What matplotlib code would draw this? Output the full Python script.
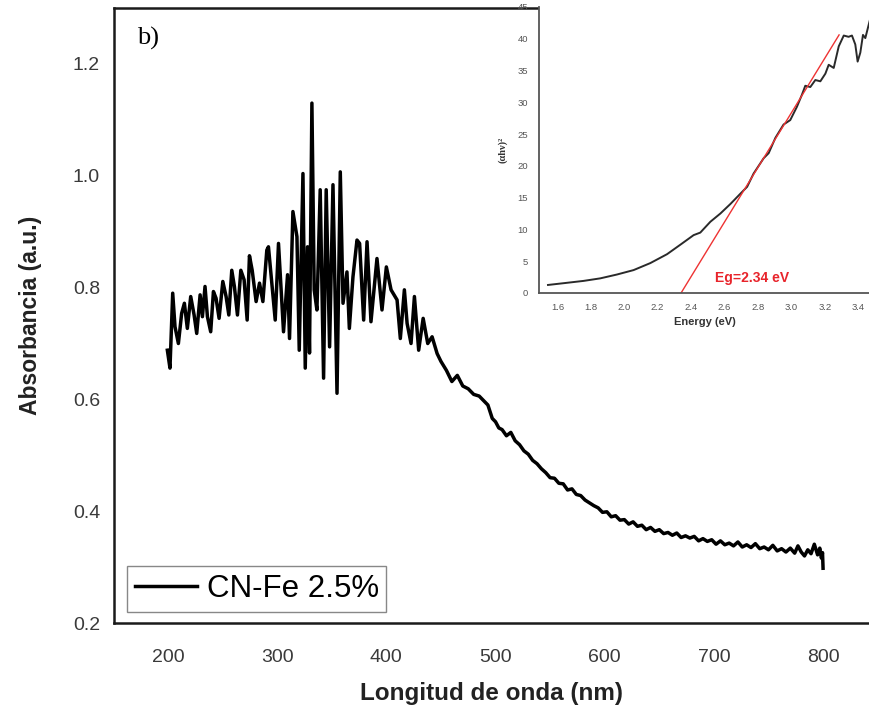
import matplotlib
matplotlib.use("Agg")
import matplotlib.pyplot as plt
from matplotlib.ticker import FormatStrFormatter

# ---------------- data ----------------
wavelength = [199.4, 201.8, 204.3, 206.4, 209.5, 212.5, 215.0, 217.7, 220.8, 223.9,
              226.3, 229.4, 231.5, 233.9, 236.1, 239.1, 241.6, 244.0, 246.8, 250.2,
              253.2, 255.7, 258.4, 260.8, 263.6, 266.7, 269.7, 272.5, 274.6, 277.1,
              280.7, 283.8, 286.9, 290.5, 292.0, 298.2, 301.2, 305.8, 309.5, 311.3,
              314.4, 318.1, 320.2, 323.6, 325.7, 327.8, 329.6, 331.8, 333.9, 336.4,
              339.4, 342.5, 344.9, 348.0, 351.1, 354.8, 357.8, 360.3, 363.9, 366.1,
              369.4, 373.1, 375.5, 379.2, 382.3, 385.9, 391.4, 396.0, 400.0, 404.3,
              409.8, 412.8, 416.5, 419.0, 422.6, 425.7, 429.6, 433.7, 437.9, 441.9,
              446.5, 450.0, 455, 460, 465, 470, 475, 480, 485, 490,
              493, 497, 500, 503, 506, 510, 514, 518, 522, 526,
              530, 534, 538, 542, 546, 550, 554, 558, 562, 566,
              570, 574, 578, 582, 586, 590, 594, 598, 602, 606,
              610, 614, 618, 622, 626, 630, 634, 638, 642, 646,
              650, 654, 658, 662, 666, 670, 674, 678, 682, 686,
              690, 694, 698, 702, 706, 710, 714, 718, 722, 726,
              730, 734, 738, 742, 746, 750, 754, 758, 762, 766,
              770, 774, 777, 780, 783, 786, 789, 792, 795, 797,
              798.5, 799.5, 800.0]
absorbance = [0.688, 0.656, 0.790, 0.730, 0.700, 0.754, 0.772, 0.727, 0.784, 0.751,
              0.718, 0.787, 0.748, 0.802, 0.748, 0.721, 0.793, 0.781, 0.745, 0.811,
              0.784, 0.751, 0.831, 0.802, 0.751, 0.831, 0.814, 0.742, 0.857, 0.831,
              0.775, 0.808, 0.775, 0.867, 0.873, 0.742, 0.879, 0.721, 0.823, 0.709,
              0.936, 0.891, 0.688, 1.004, 0.656, 0.873, 0.683, 1.130, 0.796, 0.760,
              0.975, 0.638, 0.975, 0.694, 0.984, 0.611, 1.007, 0.772, 0.828, 0.727,
              0.819, 0.885, 0.879, 0.742, 0.882, 0.739, 0.852, 0.760, 0.837, 0.796,
              0.778, 0.709, 0.796, 0.736, 0.700, 0.784, 0.688, 0.745, 0.700, 0.712,
              0.682, 0.668, 0.652, 0.632, 0.643, 0.624, 0.619, 0.609, 0.606, 0.596,
              0.590, 0.566, 0.560, 0.549, 0.546, 0.535, 0.541, 0.526, 0.519, 0.508,
              0.502, 0.491, 0.485, 0.476, 0.469, 0.460, 0.459, 0.450, 0.449, 0.438,
              0.440, 0.430, 0.428, 0.420, 0.415, 0.410, 0.406, 0.398, 0.399, 0.390,
              0.392, 0.384, 0.385, 0.377, 0.381, 0.373, 0.375, 0.367, 0.371, 0.364,
              0.367, 0.360, 0.362, 0.357, 0.361, 0.353, 0.356, 0.352, 0.355, 0.347,
              0.351, 0.346, 0.349, 0.341, 0.347, 0.340, 0.343, 0.338, 0.345, 0.336,
              0.340, 0.335, 0.342, 0.333, 0.336, 0.331, 0.339, 0.329, 0.333, 0.327,
              0.334, 0.325, 0.338, 0.327, 0.320, 0.331, 0.324, 0.341, 0.322, 0.334,
              0.316, 0.326, 0.298]

series_label = "CN-Fe 2.5%"
x_ticks = [200, 300, 400, 500, 600, 700, 800]
y_ticks = [0.2, 0.4, 0.6, 0.8, 1.0, 1.2]

# Tauc plot inset
energy = [1.544, 1.658, 1.757, 1.857, 1.956, 2.056, 2.156, 2.256, 2.336, 2.415,
          2.455, 2.515, 2.575, 2.635, 2.694, 2.735, 2.774, 2.834, 2.864, 2.904,
          2.953, 2.993, 3.033, 3.063, 3.083, 3.113, 3.143, 3.173, 3.203, 3.223,
          3.253, 3.283, 3.313, 3.342, 3.362, 3.382, 3.396, 3.412, 3.428, 3.442,
          3.468]
tauc = [1.26, 1.6, 1.9, 2.3, 2.9, 3.6, 4.7, 6.1, 7.6, 9.1,
        9.5, 11.2, 12.5, 14.0, 15.6, 16.7, 18.8, 21.2, 22.0, 24.4,
        26.5, 27.2, 29.3, 31.2, 32.6, 32.4, 33.5, 33.3, 34.5, 35.9,
        35.4, 38.8, 40.5, 40.3, 40.5, 39.1, 36.4, 37.8, 40.6, 40.1,
        42.8]
fit_energy = [2.34, 3.285]
fit_tauc = [0.0, 40.6]
eg_label = "Eg=2.34 eV"
inset_x_ticks = [1.6, 1.8, 2.0, 2.2, 2.4, 2.6, 2.8, 3.0, 3.2, 3.4]
inset_y_ticks = [0, 5, 10, 15, 20, 25, 30, 35, 40, 45]

# ---------------- figure ----------------
plt.rcParams['font.family'] = ['Liberation Sans', 'DejaVu Sans']
fig = plt.figure(figsize=(8.70, 7.08), dpi=100)

ax = fig.add_axes([0.131, 0.120, 0.869, 0.8686])
ax.plot(wavelength, absorbance, color='black', lw=2.5, label=series_label,
        solid_joinstyle='round')
ax.set_xlim(150.5, 843)
ax.set_ylim(0.2, 1.3)
ax.set_xticks(x_ticks)
ax.set_yticks(y_ticks)
ax.yaxis.set_major_formatter(FormatStrFormatter('%.1f'))
ax.tick_params(length=0, labelsize=14, colors='#3a3a3a')
ax.tick_params(axis='x', pad=19)
ax.tick_params(axis='y', pad=10)
for s in ['left', 'bottom', 'top']:
    ax.spines[s].set_linewidth(1.8)
    ax.spines[s].set_color('#1a1a1a')
ax.spines['right'].set_visible(False)
ax.set_xlabel("Longitud de onda (nm)", fontsize=17.5, fontweight='bold',
              color='#222222', labelpad=11)
ax.set_ylabel("Absorbancia (a.u.)", fontsize=16.5, fontweight='bold',
              color='#222222', labelpad=22)
ax.text(0.030, 0.969, "b)", transform=ax.transAxes, fontsize=19,
        family='Liberation Serif', va='top', ha='left')
leg = ax.legend(loc='lower left', bbox_to_anchor=(0.017, 0.018), borderaxespad=0,
                fontsize=22.5, handlelength=2.0, handletextpad=0.3,
                fancybox=False, framealpha=1, borderpad=0.25)
leg.get_frame().set_edgecolor('#888888')
leg.get_frame().set_linewidth(1.0)

# inset
ins = fig.add_axes([0.6195, 0.5862, 0.3805, 0.404])
ins.plot(energy, tauc, color='#2a2a2a', lw=1.4)
ins.plot(fit_energy, fit_tauc, color='#ee3333', lw=1.0)
ins.text(2.545, 2.4, eg_label, color='#e8242b', fontsize=10, fontweight='bold',
         va='center', ha='left')
ins.set_xlim(1.49, 3.47)
ins.set_ylim(0, 45)
ins.set_xticks(inset_x_ticks)
ins.set_yticks(inset_y_ticks)
ins.xaxis.set_major_formatter(FormatStrFormatter('%.1f'))
ins.tick_params(length=0, labelsize=6.8, colors='#555555', pad=7)
ins.tick_params(axis='y', pad=8)
ins.spines['top'].set_visible(False)
ins.spines['right'].set_visible(False)
for s in ['left', 'bottom']:
    ins.spines[s].set_linewidth(1.3)
    ins.spines[s].set_color('#555555')
ins.set_xlabel("Energy (eV)", fontsize=8, fontweight='bold', color='#333333',
               labelpad=4)
ins.set_ylabel("(αhν)²", fontsize=7.5, fontweight='bold', color='#333333',
               family=['Liberation Serif', 'DejaVu Serif'], labelpad=7)

fig.savefig("out.png", dpi=100)
